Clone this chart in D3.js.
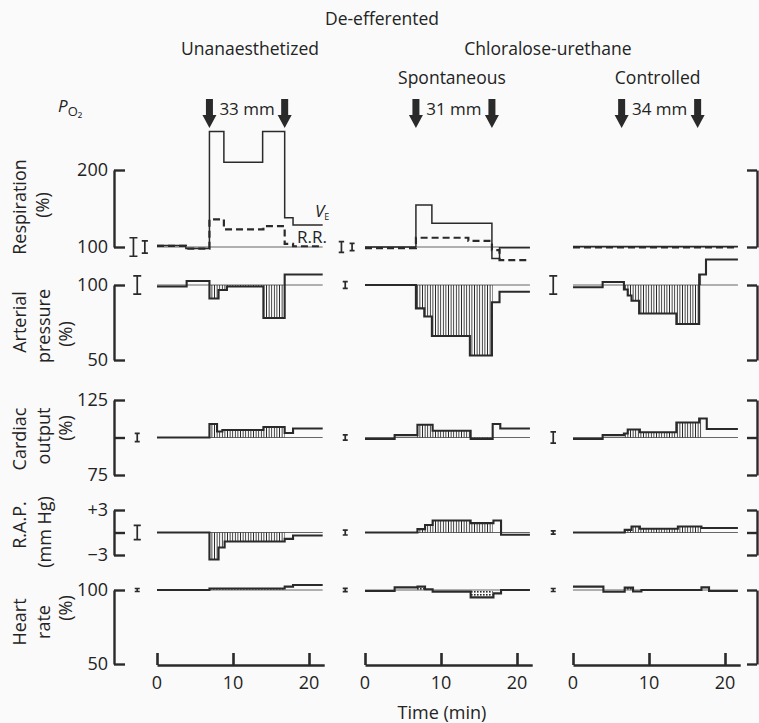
<!DOCTYPE html>
<html><head><meta charset="utf-8">
<script src="https://cdn.jsdelivr.net/npm/d3@7"></script>
<style>
body{margin:0;background:#fafafa}
svg{display:block;background:#fafafa}
text{font-family:"Open Sans",Lato,sans-serif;fill:#232323}
</style>
</head><body><svg id="c" width="759" height="723"></svg>
<script>
// ---------------- DATA ----------------
const groupTitle = "De-efferented";
const anaesTitles = ["Unanaesthetized", "Chloralose-urethane"];
const panelTitles = ["", "Spontaneous", "Controlled"];
const po2Labels = ["33 mm", "31 mm", "34 mm"];
const arrowTimes = [[6.9, 16.8], [6.7, 16.7], [6.4, 16.4]];
const hatchWindows = [[6.9, 16.8], [6.7, 16.8], [6.7, 16.9]];
const endTimes = [21.8, 21.7, 21.7];
const timeTicks = [0, 10, 20];

// step series: [start time (min), value]
const respVE_unan = [[0,102],[3.8,98],[6.9,250],[8.8,210],[13.9,250],[16.8,138],[17.9,128.6]];
const respRR_unan = [[0,101.5],[3.8,98],[6.9,136],[8.8,123],[14,127],[16.8,104],[17.9,101]];
const ap_unan  = [[0,99],[3.9,102.7],[6.9,91],[8.1,96.7],[9.2,99],[14,78],[16.8,107]];
const co_unan  = [[0,100],[6.9,109],[7.9,104],[8.6,105],[14,107],[16.8,103],[17.9,106]];
const rap_unan = [[0,0],[6.9,-3.6],[8.1,-2.0],[8.9,-1.2],[16.8,-0.85],[17.9,-0.4]];
const hr_unan  = [[0,100],[6.9,101],[16.8,102.3],[17.9,103.4]];

const respVE_spon = [[0,100],[6.7,154.5],[8.8,130.7],[16.7,85],[17.7,99]];
const respRR_spon = [[0,98.5],[6.7,112],[13.6,108],[16.7,96],[17.7,83]];
const ap_spon  = [[0,100],[6.7,84.4],[7.8,79],[8.8,66],[13.8,53],[16.7,88.5],[17.7,95.5]];
const co_spon  = [[0,99],[3.9,101.6],[6.9,108.5],[8.9,104.5],[13.9,99],[16.8,109],[17.8,106]];
const rap_spon = [[0,0],[6.9,0.45],[7.9,1.0],[8.9,1.6],[13.9,1.25],[16.9,1.6],[17.9,-0.3]];
const hr_spon  = [[0,99.3],[3.9,101.8],[6.9,102.3],[7.9,100.5],[8.9,98.9],[13.9,95],[16.9,97.7],[17.9,100]];

const respVE_ctrl = [[0,100.6]];
const respRR_ctrl = [[0,99.4]];
const ap_ctrl  = [[0,98.5],[3.9,102],[6.7,97],[7.2,93],[7.7,89.5],[8.7,81],[13.6,74],[16.6,107],[17.5,117]];
const co_ctrl  = [[0,99],[3.9,101.6],[6.7,102.7],[7.2,105.3],[8.8,103.5],[13.6,110],[16.6,112.7],[17.6,105.7]];
const rap_ctrl = [[0,0],[6.8,0.35],[7.7,0.8],[8.8,0.5],[13.8,0.8],[16.9,0.6]];
const hr_ctrl  = [[0,102.3],[4,98.8],[6.8,101.6],[7.9,99],[9,100],[16.9,101.8],[17.9,99.3]];

// control variability bars: [time offset, half range]
const errResp = [[[-3.1,12],[-1.6,8]], [[-3.1,7],[-1.7,4.8]], []];
const errAP  = [[[-2.6,6.1]], [[-2.6,2.3]], [[-2.6,6.1]]];
const errCO  = [[[-2.6,2.7]], [[-2.6,1.7]], [[-2.6,3.7]]];
const errRAP = [[[-2.6,0.95]], [[-2.6,0.33]], [[-2.6,0.22]]];
const errHR  = [[[-2.6,1.0]], [[-2.6,1.1]], [[-2.6,1.0]]];

// ---------------- LAYOUT ----------------
const svg = d3.select("#c");
const ink = "#2a2a2a";
const panelX0 = [157, 365, 573];
const pxPerMin = 7.6;
const xs = panelX0.map(x0 => d3.scaleLinear().domain([0,22]).range([x0, x0 + 22*pxPerMin]));

const rows = [
  {key:"resp", y:d3.scaleLinear().domain([100,200]).range([247,170]), base:100, ticks:[100,200],
   labels:[[200,"200"],[100,"100"]], title:["Respiration","(%)"], tx:[20,43], ty:[207,205],
   series:[[respVE_unan,respVE_spon,respVE_ctrl],[respRR_unan,respRR_spon,respRR_ctrl]], err:errResp, hatch:null},
  {key:"ap", y:d3.scaleLinear().domain([50,100]).range([360,285]), base:100, ticks:[50,100],
   labels:[[100,"100"],[50,"50"]], title:["Arterial","pressure","(%)"], tx:[20,44,66], ty:[322,326,334],
   series:[[ap_unan,ap_spon,ap_ctrl]], err:errAP, hatch:"vl"},
  {key:"co", y:d3.scaleLinear().domain([75,125]).range([475,400]), base:100, ticks:[75,100,125],
   labels:[[125,"125"],[75,"75"]], title:["Cardiac","output","(%)"], tx:[20,44,66], ty:[439,436,428],
   series:[[co_unan,co_spon,co_ctrl]], err:errCO, hatch:"vl"},
  {key:"rap", y:d3.scaleLinear().domain([-3,3]).range([555,510]), base:0, ticks:[-3,0,3],
   labels:[[3,"+3"],[-3,"\u22123"]], title:["R.A.P.","(mm Hg)"], tx:[20,45], ty:[525,532],
   series:[[rap_unan,rap_spon,rap_ctrl]], err:errRAP, hatch:"vl"},
  {key:"hr", y:d3.scaleLinear().domain([50,100]).range([664,590]), base:100, ticks:[50,100],
   labels:[[100,"100"],[50,"50"]], title:["Heart","rate","(%)"], tx:[20,44,66], ty:[622,622,608],
   series:[[hr_unan,hr_spon,hr_ctrl]], err:errHR, hatch:"dots"}
];

// patterns
const defs = svg.append("defs");
const pv = defs.append("pattern").attr("id","vl").attr("patternUnits","userSpaceOnUse")
  .attr("width",2.6).attr("height",10);
pv.append("line").attr("x1",1.3).attr("x2",1.3).attr("y1",0).attr("y2",10)
  .attr("stroke",ink).attr("stroke-width",0.9);
const pd = defs.append("pattern").attr("id","dots").attr("patternUnits","userSpaceOnUse")
  .attr("width",3).attr("height",3);
pd.append("rect").attr("x",0).attr("y",0).attr("width",1.6).attr("height",1.6).attr("fill",ink);

// ---------------- TITLES ----------------
svg.append("text").attr("x",382).attr("y",25).attr("text-anchor","middle")
  .style("font-size","17.5px").text(groupTitle);
svg.append("text").attr("x",250).attr("y",55).attr("text-anchor","middle")
  .style("font-size","17.5px").text(anaesTitles[0]);
svg.append("text").attr("x",548).attr("y",55).attr("text-anchor","middle")
  .style("font-size","17.5px").text(anaesTitles[1]);
[1,2].forEach(i => {
  const cx = (xs[i](arrowTimes[i][0]) + xs[i](arrowTimes[i][1]))/2;
  svg.append("text").attr("x",cx-2).attr("y",84).attr("text-anchor","middle")
    .style("font-size","17.5px").text(panelTitles[i]);
});
const po2 = svg.append("text").attr("x",58).attr("y",112).style("font-size","17px");
po2.append("tspan").style("font-style","italic").text("P");
po2.append("tspan").attr("dy",4).style("font-size","13px").text("O\u2082");

// arrows + PO2 values
arrowTimes.forEach((at, i) => {
  at.forEach(t => {
    const cx = xs[i](t);
    svg.append("path")
      .attr("d", `M${cx-3.5},99 H${cx+3.5} V115 H${cx+7} L${cx},128 L${cx-7},115 H${cx-3.5} Z`)
      .attr("fill", ink);
  });
  const mid = (xs[i](at[0]) + xs[i](at[1]))/2;
  svg.append("text").attr("x",mid).attr("y",115).attr("text-anchor","middle")
    .style("font-size","17px").text(po2Labels[i]);
});

// ---------------- ROWS ----------------
function valueAt(s, t){ let v = s[0][1]; for (const d of s) if (d[0] <= t) v = d[1]; return v; }

rows.forEach(r => {
  const y = r.y;
  // row title
  r.title.forEach((line, k) => {
    svg.append("text").attr("x", r.tx[k]).attr("y", r.ty[k])
      .attr("transform", `rotate(-90,${r.tx[k]},${r.ty[k]})`)
      .attr("text-anchor","middle").attr("dy","0.36em")
      .style("font-size","18px").text(line);
  });
  // left bracket axis
  const ga = svg.append("g").attr("transform","translate(114,0)")
    .call(d3.axisRight(y).tickValues(r.ticks).tickSize(11).tickSizeOuter(0).tickFormat(""));
  ga.selectAll("path,line").attr("stroke",ink).attr("stroke-width",2.4);
  // right bracket axis
  const gb = svg.append("g").attr("transform","translate(757,0)")
    .call(d3.axisLeft(y).tickValues(r.ticks).tickSize(10).tickSizeOuter(0).tickFormat(""));
  gb.selectAll("path,line").attr("stroke",ink).attr("stroke-width",2.4);
  r.labels.forEach(([v, lab]) => {
    svg.append("text").attr("x",108).attr("y",y(v)).attr("dy","0.35em")
      .attr("text-anchor","end").style("font-size","18px").text(lab);
  });

  xs.forEach((x, i) => {
    const end = endTimes[i];
    // baseline
    svg.append("line").attr("x1",x(0)).attr("x2",x(end)).attr("y1",y(r.base)).attr("y2",y(r.base))
      .attr("stroke","#555").attr("stroke-width",0.9);
    // hatch
    if (r.hatch) {
      const s = r.series[0][i];
      const [a, b] = hatchWindows[i];
      const pts = [[a, valueAt(s,a)]];
      s.forEach(d => { if (d[0] > a && d[0] < b) pts.push(d); });
      pts.push([b, valueAt(s,b)]);
      const area = d3.area().x(d => x(d[0])).y0(y(r.base)).y1(d => y(d[1])).curve(d3.curveStepAfter);
      svg.append("path").attr("d", area(pts)).attr("fill", `url(#${r.hatch})`);
    }
    // traces
    r.series.forEach((ser, k) => {
      const s = ser[i];
      const pts = s.concat([[end, s[s.length-1][1]]]);
      const line = d3.line().x(d => x(d[0])).y(d => y(d[1])).curve(d3.curveStepAfter);
      const p = svg.append("path").attr("d", line(pts)).attr("fill","none")
        .attr("stroke", ink);
      if (r.key === "resp" && k === 0) p.attr("stroke-width", 1.5);
      else if (r.key === "resp" && k === 1) p.attr("stroke-width", 2.2).attr("stroke-dasharray","7,4");
      else p.attr("stroke-width", 2.1);
    });
    // variability bars
    r.err[i].forEach(([dt, h]) => {
      const cx = x(dt), y1 = y(r.base + h), y2 = y(r.base - h);
      const cw = Math.min(4, Math.max(2.5, (y2 - y1) / 4));
      svg.append("path").attr("d",
        `M${cx},${y1} V${y2} M${cx-cw},${y1} H${cx+cw} M${cx-cw},${y2} H${cx+cw}`)
        .attr("stroke", ink).attr("stroke-width", 1.7).attr("fill","none");
    });
  });
});

// V_E and R.R. labels
const ve = svg.append("text").attr("x",315).attr("y",217).style("font-size","17px");
ve.append("tspan").style("font-style","italic").text("V");
ve.append("tspan").attr("dy",3).style("font-size","9px").text("E");
svg.append("text").attr("x",297).attr("y",243).style("font-size","17px").text("R.R.");

// ---------------- TIME AXES ----------------
xs.forEach(x => {
  const g = svg.append("g").attr("transform","translate(0,665)")
    .call(d3.axisTop(x).tickValues(timeTicks).tickSize(12).tickSizeOuter(0).tickFormat(""));
  g.selectAll("path,line").attr("stroke",ink).attr("stroke-width",2.6);
  timeTicks.forEach(t => {
    svg.append("text").attr("x",x(t)).attr("y",689).attr("text-anchor","middle")
      .style("font-size","18px").text(t);
  });
});
svg.append("text").attr("x",442).attr("y",719).attr("text-anchor","middle")
  .style("font-size","18px").text("Time (min)");
</script>
</body></html>
